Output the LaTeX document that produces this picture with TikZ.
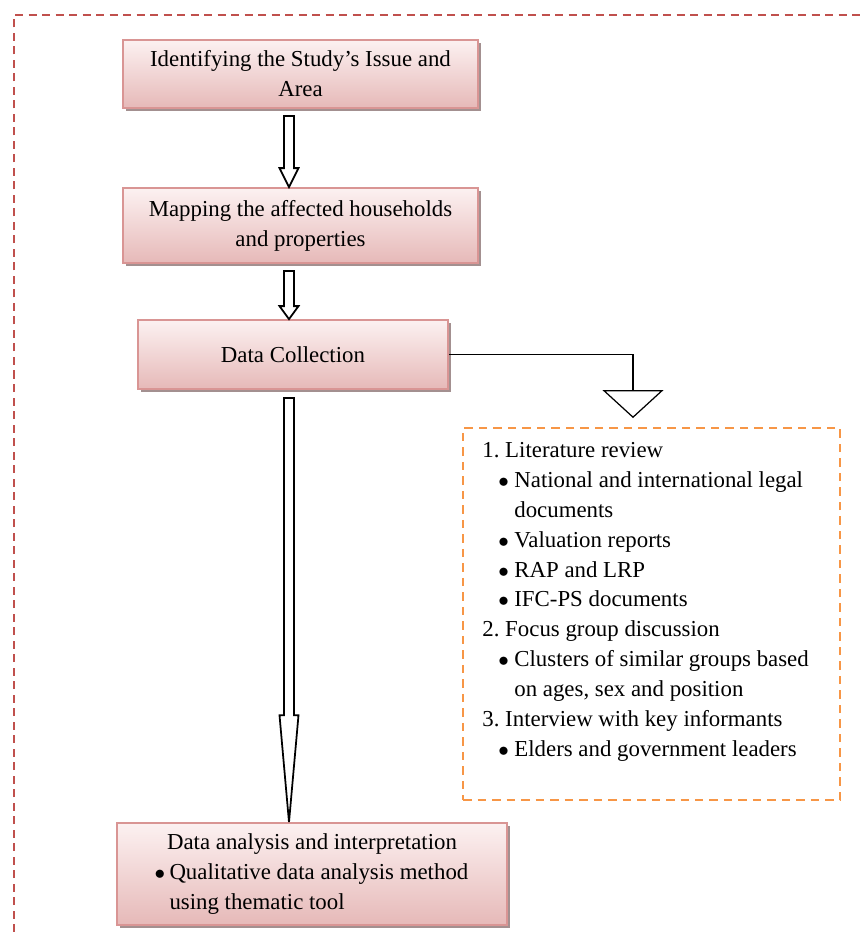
\documentclass[tikz,border=0pt]{standalone}
\usepackage{fontspec}
\setmainfont{Liberation Serif}
\usetikzlibrary{arrows.meta,shadows,calc}

\definecolor{framered}{HTML}{C0504D}
\definecolor{listorange}{HTML}{F79646}
\definecolor{pinkline}{HTML}{D99594}
\definecolor{pinktop}{HTML}{FCF1F1}
\definecolor{pinkbot}{HTML}{E6B9B8}
\definecolor{shadowtone}{HTML}{A39090}

\tikzset{
  stepbox/.style={draw=pinkline, line width=1pt, top color=pinktop, bottom color=pinkbot,
    drop shadow={shadow xshift=0.050cm, shadow yshift=-0.050cm, fill=shadowtone, opacity=1},
    font=\fontsize{13}{17}\selectfont, align=center, inner sep=0pt},
  listbox/.style={draw=listorange, line width=1.1pt, dash pattern=on 0.170cm off 0.120cm,
    inner sep=0pt},
  listtext/.style={font=\fontsize{13}{17}\selectfont, align=left, inner sep=0pt},
  framedash/.style={draw=framered, line width=1pt, dash pattern=on 0.160cm off 0.110cm},
  blockarrow/.style={draw=black, line width=1pt, fill=white},
  linkline/.style={draw=black, line width=0.7pt, -{Triangle[open,width=1.220cm,length=0.560cm]}}
}

% hollow block arrow: top point, tip point, head length
\newcommand{\hollowdown}[3]{%
  \draw[blockarrow] let \p1=(#1), \p2=(#2) in
    (\x1-0.100cm,\y1) -- (\x1+0.100cm,\y1) -- (\x1+0.100cm,\y2+#3) -- (\x1+0.190cm,\y2+#3)
    -- (\x1,\y2) -- (\x1-0.190cm,\y2+#3) -- (\x1-0.100cm,\y2+#3) -- cycle;}
\newcommand{\bitem}{\hspace*{0.320cm}\makebox[0.320cm][l]{$\bullet$}}
\newcommand{\bcont}{\hspace*{0.640cm}}

\begin{document}
\begin{tikzpicture}
\useasboundingbox (0,0) rectangle (17.200,-18.640);
\draw[framedash] (0.280,-18.640) -- (0.280,-0.300) -- (17.200,-0.300);

\coordinate (spine) at (5.780,0);

\node[stepbox, minimum width=7.100cm, minimum height=1.360cm] (issue) at (6.010,-1.480)
  {Identifying the Study’s Issue and\\Area};
\node[stepbox, minimum width=7.100cm, minimum height=1.500cm] (mapping) at (6.010,-4.510)
  {Mapping the affected households\\and properties};
\node[stepbox, minimum width=6.200cm, minimum height=1.380cm] (collect) at (5.860,-7.090)
  {Data Collection};
\node[stepbox, minimum width=7.800cm, minimum height=2.040cm, align=left] (analysis) at (6.240,-17.480)
  {\makebox[6.300cm][c]{Data analysis and interpretation}\\
   \makebox[0.300cm][l]{$\bullet$}Qualitative data analysis method\\
   \hspace*{0.300cm}using thematic tool};

\node[listbox, minimum width=7.540cm, minimum height=7.440cm] (methods) at (13.030,-12.280) {};
\node[listtext, anchor=north west] (methodlist) at ($(methods.north west)+(0.400,-0.300)$)
  {1.\ Literature review\\
   \bitem National and international legal\\
   \bcont documents\\
   \bitem Valuation reports\\
   \bitem RAP and LRP\\
   \bitem IFC-PS documents\\
   2.\ Focus group discussion\\
   \bitem Clusters of similar groups based\\
   \bcont on ages, sex and position\\
   3.\ Interview with key informants\\
   \bitem Elders and government leaders};

\hollowdown{$(issue.south -| spine)+(0,-0.140)$}{mapping.north -| spine}{0.380cm}
\hollowdown{$(mapping.south -| spine)+(0,-0.140)$}{collect.north -| spine}{0.260cm}
\hollowdown{$(collect.south -| spine)+(0,-0.160)$}{analysis.north -| spine}{2.140cm}

\draw[linkline] (collect.east) -| ($(methods.north)+(-0.370,0.180)$);
\end{tikzpicture}
\end{document}
